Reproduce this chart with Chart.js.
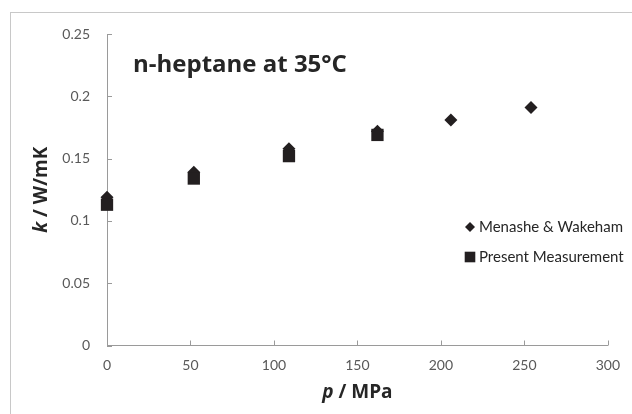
<!DOCTYPE html>
<html>
<head>
<meta charset="utf-8">
<script src="https://cdn.jsdelivr.net/npm/chart.js@4.4.0/dist/chart.umd.min.js"></script>
<style>
  html, body { margin: 0; padding: 0; background: #fff; overflow: hidden; }
  #wrap  { position: relative; width: 632px; height: 414px; }
  #frame { position: absolute; left: 10px; top: 12px; width: 700px; height: 500px; border: 1px solid #c8c8c8; }
  canvas { position: absolute; left: 0; top: 0; }
</style>
</head>
<body>
<div id="wrap">
  <div id="frame"></div>
  <canvas id="chart" width="632" height="414"></canvas>
</div>
<script>
// ---- DATOS ----
var SERIES_NAMES = ["Menashe & Wakeham", "Present Measurement"];
var MW_P  = [0, 52, 109, 162, 206, 254];
var MW_K  = [0.119, 0.139, 0.158, 0.172, 0.181, 0.191];
var PM_P  = [0, 52, 109, 162];
var PM_K  = [0.113, 0.134, 0.152, 0.169];
var X_TICKS = [0, 50, 100, 150, 200, 250, 300];
var Y_TICKS = [0, 0.05, 0.1, 0.15, 0.2, 0.25];
var CHART_TITLE = "n-heptane at 35°C";

// ---- ESTILO ----
var FONT       = "Lato, 'Open Sans', sans-serif";
var BOLD_FONT  = "'Open Sans', Lato, sans-serif";
var MARK_COLOR = "#231f20";
var AXIS_COLOR = "#9a9a9a";
var TICK_COLOR = "#595959";
var TEXT_COLOR = "#262626";

function pts(xs, ys) {
  return xs.map(function(x, i) { return { x: x, y: ys[i] }; });
}

// texto con partes en cursiva, centrado en (0,0)
function drawParts(ctx, parts, size) {
  var total = 0;
  parts.forEach(function(p) {
    ctx.font = (p.it ? "italic " : "") + "bold " + size + "px " + BOLD_FONT;
    p.w = ctx.measureText(p.t).width;
    total += p.w;
  });
  var x = -total / 2;
  parts.forEach(function(p) {
    ctx.font = (p.it ? "italic " : "") + "bold " + size + "px " + BOLD_FONT;
    ctx.fillText(p.t, x, 0);
    x += p.w;
  });
}

var overlay = {
  id: "overlay",
  afterDraw: function(chart) {
    var ctx = chart.ctx, a = chart.chartArea;
    var xs = chart.scales.x, ys = chart.scales.y;
    ctx.save();

    // marcas de escala hacia adentro
    ctx.strokeStyle = AXIS_COLOR;
    ctx.lineWidth = 1;
    ctx.beginPath();
    xs.ticks.forEach(function(t) {
      var px = Math.round(xs.getPixelForValue(t.value)) + 0.5;
      ctx.moveTo(px, a.bottom); ctx.lineTo(px, a.bottom - 5);
    });
    ys.ticks.forEach(function(t) {
      var py = Math.round(ys.getPixelForValue(t.value)) + 0.5;
      ctx.moveTo(a.left, py); ctx.lineTo(a.left + 5, py);
    });
    ctx.stroke();

    // titulo dentro del grafico
    ctx.fillStyle = TEXT_COLOR;
    ctx.textBaseline = "middle";
    ctx.textAlign = "left";
    ctx.font = "bold 24px " + BOLD_FONT;
    ctx.fillText(CHART_TITLE, 133, 65);

    // titulos de ejes
    ctx.save();
    ctx.translate((a.left + a.right) / 2, 393);
    drawParts(ctx, [{ t: "p", it: true }, { t: " / MPa" }], 19);
    ctx.restore();

    ctx.save();
    ctx.translate(42, (a.top + a.bottom) / 2);
    ctx.rotate(-Math.PI / 2);
    drawParts(ctx, [{ t: "k", it: true }, { t: " / W/mK" }], 19);
    ctx.restore();

    // leyenda
    var rows = [227, 257];
    var legR = [5, 7.5];
    chart.data.datasets.forEach(function(ds, i) {
      ctx.fillStyle = MARK_COLOR;
      Chart.helpers.drawPoint(ctx, { pointStyle: ds.pointStyle, radius: legR[i], borderWidth: 0, rotation: 0 }, 470, rows[i]);
      ctx.fillStyle = TEXT_COLOR;
      ctx.font = "15px " + FONT;
      ctx.textAlign = "left";
      ctx.textBaseline = "middle";
      ctx.fillText(ds.label, 479, rows[i]);
    });

    ctx.restore();
  }
};

var chart = new Chart(document.getElementById("chart"), {
  type: "scatter",
  data: {
    datasets: [
      {
        label: SERIES_NAMES[0],
        data: pts(MW_P, MW_K),
        pointStyle: "rectRot",
        pointRadius: 6.5,
        pointHoverRadius: 6.5,
        backgroundColor: MARK_COLOR,
        borderWidth: 0,
        order: 1,
        clip: false
      },
      {
        label: SERIES_NAMES[1],
        data: pts(PM_P, PM_K),
        pointStyle: "rect",
        pointRadius: 8.7,
        pointHoverRadius: 8.7,
        backgroundColor: MARK_COLOR,
        borderWidth: 0,
        order: 0,
        clip: false
      }
    ]
  },
  options: {
    responsive: false,
    animation: false,
    layout: { padding: { top: 34, right: 23, left: 0, bottom: 0 } },
    plugins: { legend: { display: false }, tooltip: { enabled: false } },
    scales: {
      x: {
        min: X_TICKS[0], max: X_TICKS[X_TICKS.length - 1],
        afterBuildTicks: function(s) { s.ticks = X_TICKS.map(function(v) { return { value: v }; }); },
        afterFit: function(s) { s.height = 68.5; },
        grid: { drawOnChartArea: false, drawTicks: false },
        border: { color: AXIS_COLOR, width: 1 },
        ticks: { color: TICK_COLOR, font: { family: FONT, size: 14 }, padding: 12, maxRotation: 0 }
      },
      y: {
        min: Y_TICKS[0], max: Y_TICKS[Y_TICKS.length - 1],
        afterBuildTicks: function(s) { s.ticks = Y_TICKS.map(function(v) { return { value: v }; }); },
        afterFit: function(s) { s.width = 107; },
        grid: { drawOnChartArea: false, drawTicks: false },
        border: { color: AXIS_COLOR, width: 1 },
        ticks: {
          color: TICK_COLOR, font: { family: FONT, size: 14 }, padding: 17,
          callback: function(v) { return String(Number(v.toFixed(2))); }
        }
      }
    }
  },
  plugins: [overlay]
});
</script>
</body>
</html>
